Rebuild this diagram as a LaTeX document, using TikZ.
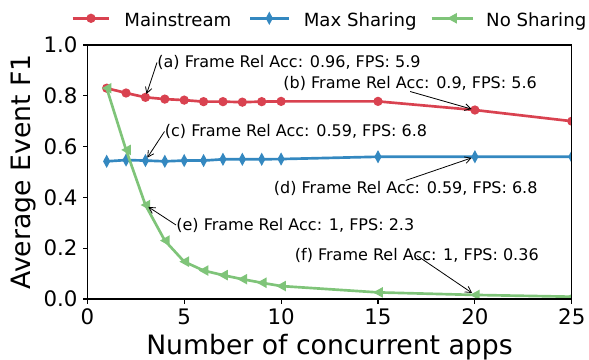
\documentclass[tikz,border=0pt]{standalone}
\usepackage{fontspec}
\setmainfont{DejaVu Sans}
\usetikzlibrary{positioning, arrows.meta}
\definecolor{mainred}{RGB}{217,66,80}
\definecolor{maxblue}{RGB}{52,136,192}
\definecolor{nogreen}{RGB}{127,196,121}
\begin{document}
\begin{tikzpicture}
        [> = {Straight Barb[length=4.5pt, width=5pt]},
            x = 0.75pt,
            y = -0.75pt,
            semithick,
            tick label/.style = {font=\fontsize{16}{19}\selectfont, inner sep=0pt},
            axis label/.style = {font=\fontsize{20}{24}\selectfont, inner sep=0pt, anchor=base},
            legend text/.style = {font=\fontsize{13.6}{16}\selectfont, inner sep=0pt, text height=12.2pt, text depth=0pt},
            ann text/.style = {font=\fontsize{12}{14}\selectfont, inner sep=0pt, anchor=base west},
            ann arrow/.style = {->, shorten > = 2.6pt},
            main line/.style = {draw=mainred, line width=2pt, line join=round},
            max line/.style = {draw=maxblue, line width=2pt, line join=round},
            no line/.style = {draw=nogreen, line width=2pt, line join=round},
            pics/main mark/.style = {code = {\fill[mainred] (0,0) circle (3.5pt);}},
            pics/max mark/.style = {code = {\fill[maxblue] (0pt,5pt) -- (2.7pt,0pt) -- (0pt,-5pt) -- (-2.7pt,0pt) -- cycle;}},
            pics/no mark/.style = {code = {\fill[nogreen] (-3.6pt,0pt) -- (3.6pt,4pt) -- (3.6pt,-4pt) -- cycle;}}]

        \useasboundingbox (0,0) rectangle (589,360);

        \begin{scope}[shift = {(87.3,299)}, x = 14.535pt, y = 190.5pt]
            \foreach \px/\py [count=\i] in {1/0.83, 2/0.811, 3/0.794, 4/0.787, 5/0.783, 6/0.777, 7/0.777,
                8/0.775, 9/0.777, 10/0.778, 15/0.778, 20/0.744, 25/0.70}
                \coordinate (m\i) at (\px,\py);
            \foreach \px/\py [count=\i] in {1/0.542, 2/0.547, 3/0.545, 4/0.542, 5/0.545, 6/0.545, 7/0.55,
                8/0.55, 9/0.55, 10/0.551, 15/0.56, 20/0.56, 25/0.56}
                \coordinate (s\i) at (\px,\py);
            \foreach \px/\py [count=\i] in {1/0.83, 2/0.587, 3/0.37, 4/0.23, 5/0.147, 6/0.112, 7/0.094,
                8/0.078, 9/0.064, 10/0.051, 15/0.026, 20/0.016, 25/0.009}
                \coordinate (n\i) at (\px,\py);

            \begin{scope}
                \clip (0,0) rectangle (25,1);
                \draw[main line] (m1) \foreach \i in {2,...,13} {-- (m\i)};
                \foreach \i in {1,...,13} \path (m\i) pic {main mark};
                \draw[max line] (s1) \foreach \i in {2,...,13} {-- (s\i)};
                \foreach \i in {1,...,13} \path (s\i) pic {max mark};
                \draw[no line] (n1) \foreach \i in {2,...,13} {-- (n\i)};
                \foreach \i in {1,...,13} \path (n\i) pic {no mark};
            \end{scope}

            \draw[line width=0.8pt] (0,0) rectangle (25,1);
            \foreach \t in {0,5,...,25}
                \draw[line width=0.8pt] (\t,0) -- ++(0pt,-3.5pt)
                    node[tick label, anchor=north, yshift=-3.5pt] {\t};
            \foreach \v in {0.0,0.2,0.4,0.6,0.8,1.0}
                \draw[line width=0.8pt] (0,\v) -- ++(-3.5pt,0pt)
                    node[tick label, anchor=east, xshift=-3.5pt] {\v};
        \end{scope}

        \node[axis label] (xlabel) at (329.5,354.5) {Number of concurrent apps};
        \node[axis label, rotate=90] (ylabel) at (31,172) {Average Event F1};

        \draw[main line] (72.5,18.3) coordinate (leg main) -- (109.4,18.3) coordinate (leg main end);
        \path (91,18.3) pic {main mark};
        \node[legend text, right = 11pt of leg main end] (leg main text) {Mainstream};
        \draw[max line] (250,18.3) coordinate (leg max) -- (288.7,18.3) coordinate (leg max end);
        \path (269.3,18.3) pic {max mark};
        \node[legend text, right = 11pt of leg max end] (leg max text) {Max Sharing};
        \draw[no line] (431.5,18.3) coordinate (leg no) -- (472.5,18.3) coordinate (leg no end);
        \path (452,18.3) pic {no mark};
        \node[legend text, right = 10pt of leg no end] (leg no text) {No Sharing};

        \node[ann text] (annA) at (157,67.5) {(a) Frame Rel Acc: 0.96, FPS: 5.9};
        \node[ann text] (annB) at (283,89) {(b) Frame Rel Acc: 0.9, FPS: 5.6};
        \node[ann text] (annC) at (164.5,136.5) {(c) Frame Rel Acc: 0.59, FPS: 6.8};
        \node[ann text] (annD) at (273.5,193) {(d) Frame Rel Acc: 0.59, FPS: 6.8};
        \node[ann text] (annE) at (176,230) {(e) Frame Rel Acc: 1, FPS: 2.3};
        \node[ann text] (annF) at (294.5,260.5) {(f) Frame Rel Acc: 1, FPS: 0.36};

        \path[ann arrow]
        (annA.west) edge (m3)
        (annB.south) edge (m12)
        (annC.west) edge (s3)
        (annD.north) edge (s12)
        (annE.west) edge (n3)
        (annF.center) edge (n12);
    \end{tikzpicture}
\end{document}
